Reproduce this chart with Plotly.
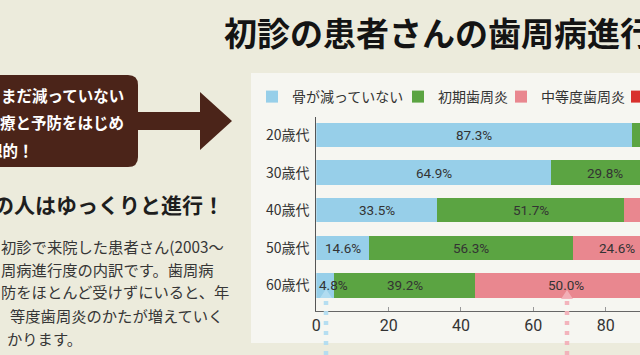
import plotly.graph_objects as go

# ---------------- data ----------------
categories = ["20歳代", "30歳代", "40歳代", "50歳代", "60歳代"]
series_names = ["骨が減っていない", "初期歯周炎", "中等度歯周炎", "重度歯周炎"]
no_bone_loss = [87.3, 64.9, 33.5, 14.6, 4.8]
early_perio = [12.7, 29.8, 51.7, 56.3, 39.2]
moderate_perio = [0.0, 5.3, 13.6, 24.6, 50.0]
severe_perio = [0.0, 0.0, 1.2, 4.5, 6.0]
x_tick_values = [0, 20, 40, 60, 80, 100]

title_text = "初診の患者さんの歯周病進行度"
box_lines = ["まだ減っていない", "療と予防をはじめ", "想的！"]
heading_text = "の人はゆっくりと進行！"
body_lines = ["初診で来院した患者さん(2003～", "周病進行度の内訳です。歯周病",
              "防をほとんど受けずにいると、年", "等度歯周炎のかたが増えていく", "かります。"]

colors = ["#97cfe9", "#5ba442", "#e9878f", "#d8302d"]
FONT = "Noto Sans CJK JP"
NUM_FONT = "Roboto, Noto Sans CJK JP"
W, H = 640, 355
X_MAX = 89.5


def px(x):
    return x / W


def py(y):
    return 1 - y / H


series = [no_bone_loss, early_perio, moderate_perio, severe_perio]

fig = go.Figure()
annotations = []
cum = [0.0] * len(categories)
for i, (name, vals) in enumerate(zip(series_names, series)):
    fig.add_trace(go.Bar(
        y=categories, x=vals, orientation="h", name=name,
        marker=dict(color=colors[i], line=dict(width=0)),
        hoverinfo="skip",
        legend="legend" if i == 0 else f"legend{i + 1}",
    ))
    # value labels (segment centres, in data units)
    for j, v in enumerate(vals):
        start = cum[j]
        cum[j] += v
        if v <= 0:
            continue
        if i == 0 and v < 8:
            ann = dict(x=start, xanchor="left", xshift=1)
        else:
            ann = dict(x=start + v / 2, xanchor="center")
        if ann["x"] > X_MAX:
            continue
        ann.update(y=categories[j], xref="x", yref="y", text=f"{v:.1f}%", showarrow=False,
                   font=dict(family=NUM_FONT, size=13.5, color="#333"))
        annotations.append(ann)

# legend item positions (square centres, px)
legend_centres = [274, 420, 523, 639]
legend_layout = {}
for i, c in enumerate(legend_centres):
    key = "legend" if i == 0 else f"legend{i + 1}"
    legend_layout[key] = dict(x=px(c - 22), xanchor="left", y=py(97), yanchor="middle",
                              orientation="h", bgcolor="rgba(0,0,0,0)",
                              font=dict(family=FONT, size=14, color="#333"))

# text annotations
annotations.append(dict(x=px(222), y=py(32), xref="paper", yref="paper", xanchor="left",
                        yanchor="middle", showarrow=False, text=f"<b>{title_text}</b>",
                        font=dict(family=FONT, size=33, color="#141414")))
box_ys = [95, 122, 150]
box_rx = [126, 126, 36]
for t, yy, xx in zip(box_lines, box_ys, box_rx):
    annotations.append(dict(x=px(xx), y=py(yy), xref="paper", yref="paper", xanchor="right",
                            yanchor="middle", showarrow=False, text=f"<b>{t}</b>",
                            font=dict(family=FONT, size=15.5, color="#ffffff")))
annotations.append(dict(x=px(226), y=py(204), xref="paper", yref="paper", xanchor="right",
                        yanchor="middle", showarrow=False, text=f"<b>{heading_text}</b>",
                        font=dict(family=FONT, size=21, color="#1e1e1e")))
body_ys = [246, 269, 291, 315, 338]
body_xs = [-1, -1, -1, 8, 5]
for t, yy, xx in zip(body_lines, body_ys, body_xs):
    annotations.append(dict(x=px(xx), y=py(yy), xref="paper", yref="paper", xanchor="left",
                            yanchor="middle", showarrow=False, text=t,
                            font=dict(family=FONT, size=15.3, color="#363636")))

# decorative shapes
shapes = [
    dict(type="rect", xref="paper", yref="paper", x0=px(251), x1=px(660), y0=py(343), y1=py(73),
         fillcolor="#f6f6f1", line=dict(width=0), layer="below"),
    dict(type="path", xref="paper", yref="paper",
         path=(f"M{px(-5)},{py(75)} L{px(128)},{py(75)} Q{px(138)},{py(75)} {px(138)},{py(85)} "
               f"L{px(138)},{py(157)} Q{px(138)},{py(167)} {px(128)},{py(167)} L{px(-5)},{py(167)} Z"),
         fillcolor="#4b2419", line=dict(width=0), layer="below"),
    dict(type="path", xref="paper", yref="paper",
         path=(f"M{px(136)},{py(112)} L{px(200)},{py(112)} L{px(200)},{py(92)} L{px(232)},{py(121)} "
               f"L{px(200)},{py(150)} L{px(200)},{py(130)} L{px(136)},{py(130)} Z"),
         fillcolor="#4b2419", line=dict(width=0), layer="below"),
]
for xc, tip, col in [(326, 289, "rgba(178,220,240,0.95)"), (567, 290, "rgba(242,176,184,0.95)")]:
    shapes.append(dict(type="line", xref="paper", yref="paper", x0=px(xc), x1=px(xc),
                       y0=py(301), y1=py(360), line=dict(color=col, width=4.5, dash="4px,6px"),
                       layer="above"))
    shapes.append(dict(type="path", xref="paper", yref="paper",
                       path=f"M{px(xc)},{py(tip)} L{px(xc + 6)},{py(tip + 9)} L{px(xc - 6)},{py(tip + 9)} Z",
                       fillcolor=col, line=dict(width=0), layer="above"))

fig.update_layout(
    width=W, height=H,
    margin=dict(l=0, r=0, t=0, b=0, autoexpand=False),
    paper_bgcolor="#ecebdc", plot_bgcolor="rgba(0,0,0,0)",
    barmode="stack", bargap=0.35,
    font=dict(family=FONT, color="#333"),
    showlegend=True,
    annotations=annotations, shapes=shapes,
    xaxis=dict(domain=[316.3 / W, 1], range=[0, X_MAX], autorange=False,
               tickvals=x_tick_values, ticks="inside", ticklen=4, tickcolor="#999",
               showline=True, linecolor="#666", linewidth=1, showgrid=False, zeroline=False,
               tickfont=dict(family=NUM_FONT, size=16, color="#333"), ticklabelstandoff=0),
    yaxis=dict(domain=[44 / H, 238 / H], type="category", categoryorder="array",
               categoryarray=categories, range=[4.678, -0.479], autorange=False,
               showline=True, linecolor="#555", linewidth=1, showgrid=False, zeroline=False,
               ticks="", tickfont=dict(family=FONT, size=14, color="#333"), ticklabelstandoff=3),
    **legend_layout,
)

# remove the browser's default 8px page margin so the figure sits at the window origin
fig.write_html("out.html",
               config={"displayModeBar": False},
               post_script="document.body.style.margin='0px';"
                           "document.body.style.background='#ecebdc';")
